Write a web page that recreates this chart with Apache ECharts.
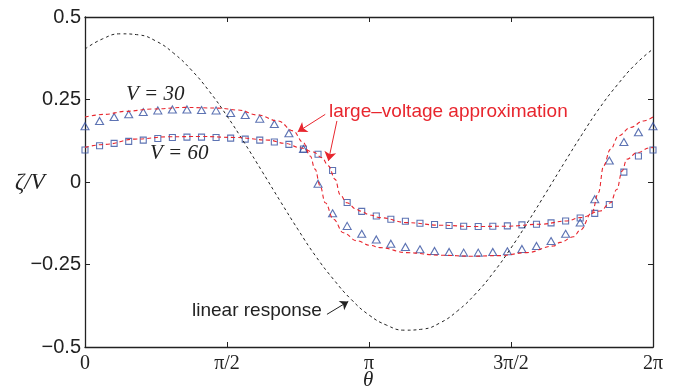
<!DOCTYPE html>
<html>
<head>
<meta charset="utf-8">
<script src="https://cdn.jsdelivr.net/npm/echarts@6/dist/echarts.min.js"></script>
<style>
  html, body { margin: 0; padding: 0; background: #fff; }
  #chart { width: 693px; height: 390px; }
</style>
</head>
<body>
<div id="chart"></div>
<script>
  // theta is in units of pi on the x axis (0 .. 2)
  var xTickLabels = ['0', 'π/2', 'π', '3π/2', '2π'];

  // numerical results, 40 equally spaced points
  var markerTheta = Array.from({length: 40}, function (_, i) { return 2 * i / 39; });
  var v30Markers = [0.169, 0.185, 0.197, 0.205, 0.212, 0.217, 0.220, 0.220, 0.218, 0.217,
    0.209, 0.203, 0.192, 0.176, 0.148, 0.100, -0.005, -0.095, -0.133, -0.157,
    -0.174, -0.187, -0.197, -0.204, -0.209, -0.212, -0.214, -0.214, -0.212, -0.210,
    -0.203, -0.194, -0.179, -0.157, -0.123, -0.052, 0.065, 0.121, 0.151, 0.169];
  var v60Markers = [0.097, 0.110, 0.117, 0.123, 0.127, 0.132, 0.135, 0.136, 0.136, 0.135,
    0.133, 0.130, 0.127, 0.121, 0.114, 0.100, 0.084, 0.035, -0.062, -0.089,
    -0.103, -0.113, -0.119, -0.125, -0.129, -0.132, -0.134, -0.135, -0.134, -0.133,
    -0.130, -0.128, -0.124, -0.118, -0.109, -0.095, -0.068, 0.030, 0.079, 0.097];

  // large-voltage approximation
  var v30ApproxTheta = [0, 0.070, 0.141, 0.235, 0.352, 0.469, 0.539, 0.609, 0.680, 0.733,
    0.768, 0.793, 0.810, 0.828, 0.846, 0.875, 0.910, 0.957, 1.004, 1.039,
    1.133, 1.251, 1.368, 1.462, 1.556, 1.650, 1.673, 1.720, 1.744, 1.785,
    1.808, 1.826, 1.850, 1.879, 1.920, 1.967, 2];
  var v30Approx = [0.197, 0.205, 0.214, 0.221, 0.226, 0.224, 0.218, 0.203, 0.185, 0.155,
    0.120, 0.079, 0.039, -0.012, -0.063, -0.113, -0.154, -0.178, -0.192, -0.199,
    -0.214, -0.222, -0.225, -0.223, -0.214, -0.194, -0.183, -0.166, -0.146, -0.093,
    -0.032, 0.049, 0.099, 0.140, 0.165, 0.185, 0.197];
  var v60ApproxTheta = [0, 0.070, 0.176, 0.293, 0.411, 0.528, 0.646, 0.705, 0.757, 0.804,
    0.834, 0.857, 0.881, 0.898, 0.922, 0.957, 0.969, 1.004, 1.039, 1.133,
    1.251, 1.368, 1.486, 1.603, 1.697, 1.744, 1.814, 1.850, 1.873, 1.891,
    1.908, 1.944, 1.990, 2];
  var v60Approx = [0.105, 0.114, 0.130, 0.137, 0.138, 0.135, 0.127, 0.117, 0.104, 0.091,
    0.074, 0.049, 0.008, -0.038, -0.063, -0.083, -0.088, -0.100, -0.108, -0.123,
    -0.131, -0.135, -0.134, -0.128, -0.118, -0.108, -0.088, -0.063, -0.022, 0.033,
    0.069, 0.089, 0.104, 0.105];

  // linear response, sampled every pi/16
  var linearTheta = Array.from({length: 33}, function (_, k) { return k / 16; });
  var linearResp = [0.403, 0.434, 0.449, 0.446, 0.427, 0.390, 0.339, 0.275, 0.200, 0.117,
    0.030, -0.058, -0.144, -0.225, -0.295, -0.356, -0.403, -0.434, -0.449, -0.446,
    -0.427, -0.390, -0.339, -0.275, -0.200, -0.117, -0.030, 0.058, 0.144, 0.225,
    0.295, 0.356, 0.403];

  function pairs(xs, ys) {
    return ys.map(function (y, i) { return [xs[i], y]; });
  }

  var RED = '#e8262e';
  var BLUE = '#3450a0';
  var INK = '#222';

  var frameAxis = {
    axisLine: {onZero: false, lineStyle: {color: INK, width: 1.3}},
    axisTick: {inside: true, length: 5, lineStyle: {color: INK}},
    splitLine: {show: false}
  };

  var myChart = echarts.init(document.getElementById('chart'));
  myChart.setOption({
    animation: false,
    grid: {left: 85, top: 17, width: 568, height: 330},
    xAxis: [Object.assign({
      type: 'value', min: 0, max: 2, interval: 0.5,
      axisLabel: {
        margin: 7, color: '#222', fontFamily: 'Liberation Serif', fontSize: 20,
        formatter: function (v) { return xTickLabels[Math.round(v * 2)]; }
      }
    }, frameAxis), Object.assign({
      type: 'value', min: 0, max: 2, interval: 0.5, position: 'top',
      axisLabel: {show: false}
    }, frameAxis)],
    yAxis: [Object.assign({
      type: 'value', min: -0.5, max: 0.5, interval: 0.25,
      axisLabel: {
        margin: 4, color: '#222', fontFamily: 'Liberation Sans', fontSize: 20,
        formatter: function (v) { return v === 0 ? '0' : (v < 0 ? '−' : '') + Math.abs(v); }
      }
    }, frameAxis), Object.assign({
      type: 'value', min: -0.5, max: 0.5, interval: 0.25, position: 'right',
      axisLabel: {show: false}
    }, frameAxis)],
    series: [{
      name: 'linear response', type: 'line', data: pairs(linearTheta, linearResp),
      smooth: true, showSymbol: false, symbol: 'none',
      lineStyle: {color: INK, width: 1, type: [3, 3]},
      markLine: {
        silent: true, symbol: ['none', 'arrow'], symbolSize: 8,
        label: {show: false},
        lineStyle: {color: INK, type: 'solid', width: 1},
        data: [[{coord: [0.852, -0.401]}, {coord: [0.927, -0.362]}]]
      }
    }, {
      name: 'V30 approx', type: 'line', data: pairs(v30ApproxTheta, v30Approx),
      smooth: 0.4, smoothMonotone: 'x', showSymbol: false, symbol: 'none',
      lineStyle: {color: RED, width: 1.1, type: [4, 3]},
      markLine: {
        silent: true, symbol: ['none', 'arrow'], symbolSize: 9,
        label: {show: false},
        lineStyle: {color: RED, type: 'solid', width: 1},
        data: [
          [{coord: [0.846, 0.205]}, {coord: [0.749, 0.152]}],
          [{coord: [0.887, 0.185]}, {coord: [0.857, 0.064]}]
        ]
      }
    }, {
      name: 'V60 approx', type: 'line', data: pairs(v60ApproxTheta, v60Approx),
      smooth: 0.4, smoothMonotone: 'x', showSymbol: false, symbol: 'none',
      lineStyle: {color: RED, width: 1.1, type: [4, 3]}
    }, {
      name: 'V = 30', type: 'scatter', data: pairs(markerTheta, v30Markers),
      symbol: 'triangle', symbolSize: [8, 7],
      itemStyle: {color: 'rgba(0,0,0,0)', borderColor: BLUE, borderWidth: 1.1}
    }, {
      name: 'V = 60', type: 'scatter', data: pairs(markerTheta, v60Markers),
      symbol: 'rect', symbolSize: 6,
      itemStyle: {color: 'rgba(0,0,0,0)', borderColor: BLUE, borderWidth: 1.1}
    }],
    graphic: [
      {type: 'text', left: 126, top: 84, style: {text: 'V = 30', font: 'italic 21px "Liberation Serif"', fill: '#222'}},
      {type: 'text', left: 150, top: 143, style: {text: 'V = 60', font: 'italic 21px "Liberation Serif"', fill: '#222'}},
      {type: 'text', left: 15, top: 171, style: {text: 'ζ/V', font: 'italic 23px "Liberation Serif"', fill: '#222'}},
      {type: 'text', left: 363, top: 370, style: {text: 'θ', font: 'italic 21px "Liberation Serif"', fill: '#222'}},
      {type: 'text', left: 329, top: 102, style: {text: 'large–voltage approximation', font: '19px "Liberation Sans"', fill: RED}},
      {type: 'text', left: 192, top: 301, style: {text: 'linear response', font: '19px "Liberation Sans"', fill: '#222'}}
    ]
  });
</script>
</body>
</html>
